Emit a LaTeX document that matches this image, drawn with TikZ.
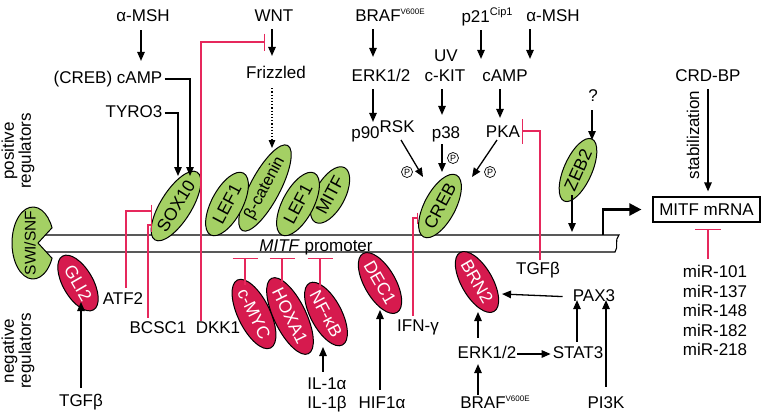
\documentclass[tikz,border=0pt]{standalone}
\usepackage{fontspec}
\setmainfont{Liberation Sans}
\usetikzlibrary{arrows.meta,calc,shapes.geometric}
\definecolor{gfill}{RGB}{164,208,100}
\definecolor{rfill}{RGB}{214,26,78}
\definecolor{rline}{RGB}{230,40,92}
\begin{document}
\begin{tikzpicture}[x=1pt,y=-1pt,
  every node/.style={font=\fontsize{17}{19}\selectfont},
  lbl/.style={inner sep=0pt,text height=12.2pt,text depth=3.6pt},
  arr/.style={line width=1.3pt,-{Triangle[length=9pt,width=7.5pt]}},
  redl/.style={line width=1.3pt,draw=rline},
  gell/.style={ellipse,draw,line width=1pt,fill=gfill,inner sep=0pt,font=\fontsize{17.5}{17.5}\selectfont},
  rell/.style={ellipse,draw,line width=1pt,fill=rfill,text=white,inner sep=0pt,font=\fontsize{17.5}{17.5}\selectfont},
  phos/.style={circle,draw,line width=0.7pt,inner sep=0pt,minimum size=11pt,font=\fontsize{9}{9}\selectfont},
]
\useasboundingbox (0,0) rectangle (761,413);

% columns for vertical arrows
\coordinate (colA) at (141,0);
\coordinate (colW) at (272,0);
\coordinate (colB) at (373,0);
\coordinate (colK) at (442,0);
\coordinate (colP) at (481,0);
\coordinate (colM) at (530,0);
\coordinate (colC) at (500,0);
\coordinate (colQ) at (592,0);
\coordinate (colR) at (708,0);
\coordinate (colI) at (323,0);
\coordinate (colH) at (380,0);
\coordinate (colE) at (478,0);
\coordinate (colS) at (577,0);
\coordinate (colT) at (606,0);

% labels
\node[rotate=90,align=center,font=\fontsize{17}{17}\selectfont,inner sep=0] (posreg) at (18,151) {positive\\regulators};
\node[rotate=90,align=center,font=\fontsize{17}{17}\selectfont,inner sep=0] (negreg) at (18,351) {negative\\regulators};

% promoter
\draw[line width=1.1pt] (40,235) -- (619,235) .. controls (614,240) and (619,247) .. (615,252) -- (43,252);
\node[lbl] (prom) at (316,247) {\textit{MITF} promoter};

% SWI/SNF
\draw[line width=1pt,fill=gfill] (38,243) -- ($(33,243)+(25:21 and 36)$) arc[start angle=25,end angle=335,x radius=21,y radius=36] -- cycle;
\node[rotate=90,font=\fontsize{15.5}{15.5}\selectfont,inner sep=0] (swi) at (30,243) {SWI/SNF};

% top text
\node[lbl] (amsh1) at (143,17) {α-MSH};
\node[lbl] (camp1) at (108,79) {(CREB) cAMP};
\node[lbl] (tyro) at (134,113) {TYRO3};
\node[lbl] (wnt) at (274,17) {WNT};
\node[lbl] (frz) at (276,74) {Frizzled};
\node[lbl] (braf1) at (390,17) {BRAF\raisebox{6.5pt}{\fontsize{8}{8}\selectfont V600E}};
\node[lbl] (erk1) at (381,77) {ERK1/2};
\node[lbl] (p90) at (383,134) {p90\raisebox{6pt}{RSK}};
\node[lbl] (uv) at (446,57) {UV};
\node[lbl] (ckit) at (445,77) {c-KIT};
\node[lbl] (p38) at (446,134) {p38};
\node[lbl] (p21) at (487,18) {p21\raisebox{7pt}{\fontsize{11}{11}\selectfont Cip1}};
\node[lbl] (amsh2) at (553,17) {α-MSH};
\node[lbl] (camp2) at (505,77) {cAMP};
\node[lbl] (pka) at (503,133) {PKA};
\node[lbl] (q) at (593,97) {?};
\node[lbl] (crdbp) at (708,77) {CRD-BP};
\node[rotate=90,inner sep=0] (stab) at (693,135) {stabilization};
\node[draw,line width=1.2pt,minimum width=107pt,minimum height=25pt,inner sep=0] (mrna) at (706.5,209.5) {MITF mRNA};
\node[align=center,font=\fontsize{17}{19.6}\selectfont,anchor=north,inner sep=0] (mir) at (715,265) {miR-101\\miR-137\\miR-148\\miR-182\\miR-218};

% bottom text
\node[lbl] (tgf1) at (81,402) {TGFβ};
\node[lbl] (atf2) at (123,300) {ATF2};
\node[lbl] (bcsc) at (158,329) {BCSC1};
\node[lbl] (dkk) at (218,329) {DKK1};
\node[lbl] (il1a) at (327,385) {IL-1α};
\node[lbl] (il1b) at (327,404) {IL-1β};
\node[lbl] (hif) at (382,404) {HIF1α};
\node[lbl] (ifn) at (418,327) {IFN-γ};
\node[lbl] (erk2) at (487,354) {ERK1/2};
\node[lbl] (braf2) at (495,404) {BRAF\raisebox{6.5pt}{\fontsize{8}{8}\selectfont V600E}};
\node[lbl] (stat3) at (578,354) {STAT3};
\node[lbl] (pax3) at (594,297) {PAX3};
\node[lbl] (pi3k) at (606,404) {PI3K};
\node[lbl] (tgf2) at (538,270) {TGFβ};

% green ellipses
\node[gell,minimum width=72pt,minimum height=31pt,rotate=58] (sox10) at (176,206) {SOX10};
\node[gell,minimum width=80pt,minimum height=30pt,rotate=62,font=\fontsize{16.5}{16.5}\selectfont] (bcat) at (265,188) {β-catenin};
\node[gell,minimum width=70pt,minimum height=31pt,rotate=62] (lef1a) at (227,204) {LEF1};
\node[gell,minimum width=62pt,minimum height=30pt,rotate=62] (mitfp) at (330,195) {MITF};
\node[gell,minimum width=70pt,minimum height=31pt,rotate=62] (lef1b) at (298,204) {LEF1};
\node[gell,minimum width=70pt,minimum height=31pt,rotate=62] (creb) at (440,206) {CREB};
\node[gell,minimum width=68pt,minimum height=28pt,rotate=66] (zeb2) at (578,170) {ZEB2};

% red ellipses
\node[rell,minimum width=62pt,minimum height=30pt,rotate=-60] (gli2) at (78,283) {GLI2};
\node[rell,minimum width=74pt,minimum height=32pt,rotate=-64] (cmyc) at (254,314) {c-MYC};
\node[rell,minimum width=76pt,minimum height=32pt,rotate=-64] (hoxa1) at (290,316) {HOXA1};
\node[rell,minimum width=68pt,minimum height=31pt,rotate=-62] (nfkb) at (326,314) {NF-κB};
\node[rell,minimum width=68pt,minimum height=31pt,rotate=-60] (dec1) at (380,283) {DEC1};
\node[rell,minimum width=68pt,minimum height=31pt,rotate=-60] (brn2) at (477,282) {BRN2};

% phospho marks
\node[phos] (ph1) at (407,172) {P};
\node[phos] (ph2) at (453,158) {P};
\node[phos] (ph3) at (490,172) {P};

% free-end coordinates
\coordinate (s10a) at (178,176);
\coordinate (s10b) at (190,176);
\coordinate (bcatT) at (272,148);
\coordinate (p90s) at (401,140);
\coordinate (crebL) at (423,177);
\coordinate (crebK) at (442,172);
\coordinate (pkas) at (497,140);
\coordinate (crebR) at (472,177);
\coordinate (zebT) at (592,140);
\coordinate (zebB) at (572,195);
\coordinate (promZ) at (572,232);
\coordinate (tss) at (603,235);
\coordinate (gliB) at (81,302);
\coordinate (nfkbB) at (323,347);
\coordinate (decB) at (380,310);
\coordinate (brnB) at (478,312);
\coordinate (brnR) at (502,294);
\coordinate (wntbar) at (265,42);
\coordinate (dkkx) at (201,0);
\coordinate (atfbar) at (152,211);
\coordinate (bcscbar) at (152,225);
\coordinate (ifnbar) at (418,218);
\coordinate (pkabar) at (522,131);
\coordinate (mirs) at (708,259);
\coordinate (mirbar) at (708,229);
\coordinate (tb1) at (245,258); \coordinate (te1) at (245,285);
\coordinate (tb2) at (282,258); \coordinate (te2) at (282,283);
\coordinate (tb3) at (320,258); \coordinate (te3) at (320,288);

% black arrows
\draw[arr,shorten <=5pt,shorten >=10pt] (amsh1.south -| colA) -- (camp1.north -| colA);
\draw[arr,shorten <=2pt] (camp1.east) -| (s10b);
\draw[arr,shorten <=2pt] (tyro.east) -| (s10a);
\draw[arr,shorten <=4pt,shorten >=10pt] (wnt.south -| colW) -- (frz.north -| colW);
\draw[line width=1.2pt,dotted,-{Triangle[length=8pt,width=6.5pt]},shorten <=6pt] (frz.south -| colW) -- (bcatT);
\draw[arr,shorten <=4pt,shorten >=12pt] (braf1.south -| colB) -- (erk1.north -| colB);
\draw[arr,shorten <=4pt,shorten >=4pt] (erk1.south -| colB) -- (p90.north -| colB);
\draw[arr,shorten <=4pt,shorten >=11pt] (ckit.south -| colK) -- (p38.north -| colK);
\draw[arr,shorten <=2pt] (p38.south -| colK) -- (crebK);
\draw[arr] (p90s) -- (crebL);
\draw[arr] (pkas) -- (crebR);
\draw[arr,shorten <=4pt,shorten >=10pt] (p21.south -| colP) -- (camp2.north -| colP);
\draw[arr,shorten <=4pt,shorten >=10pt] (amsh2.south -| colM) -- (camp2.north -| colM);
\draw[arr,shorten <=4pt,shorten >=7pt] (camp2.south -| colC) -- (pka.north -| colC);
\draw[arr,shorten <=5pt] (q.south -| colQ) -- (zebT);
\draw[arr] (zebB) -- (promZ);
\draw[arr,shorten <=4pt,shorten >=5pt] (crdbp.south -| colR) -- (mrna.north -| colR);
\draw[line width=2.4pt,-{Triangle[length=12pt,width=12pt]},shorten >=11pt] (tss) |- (mrna.west);

\draw[arr,shorten <=6pt] (tgf1.north) -- (gliB);
\draw[arr,shorten <=5pt] (il1a.north -| colI) -- (nfkbB);
\draw[arr,shorten <=6pt] (hif.north -| colH) -- (decB);
\draw[arr,shorten <=1pt,shorten >=2pt] (braf2.north -| colE) -- (erk2.south -| colE);
\draw[arr,shorten <=8pt] (erk2.north -| colE) -- (brnB);
\draw[arr,shorten <=1pt,shorten >=2pt] (erk2.east) -- (stat3.west);
\draw[arr,shorten <=4pt,shorten >=-5pt] (stat3.north -| colS) -- (pax3.south -| colS);
\draw[arr,shorten <=10pt] (pax3.west) -- (brnR);
\draw[arr,shorten <=9pt,shorten >=-5pt] (pi3k.north -| colT) -- (pax3.south -| colT);

% red inhibitors
\draw[redl,-{Bar[width=17pt,line width=1.3pt]}] (dkk.north -| dkkx) |- (wntbar);
\draw[redl,-{Bar[width=13pt,line width=1.3pt]}] (atf2.north -| 126,0) ++(0,-4) |- (atfbar);
\draw[redl,-{Bar[width=14pt,line width=1.3pt]}] (bcsc.north -| 148,0) ++(0,-3) |- (bcscbar);
\draw[redl,-{Bar[width=11pt,line width=1.3pt]}] (ifn.north -| 413,0) ++(0,-3) |- (ifnbar);
\draw[redl,-{Bar[width=25pt,line width=1.3pt]}] (tgf2.north -| 540,0) ++(0,-2) |- (pkabar);
\draw[redl,-{Bar[width=25pt,line width=1.3pt]}] (te1) -- (tb1);
\draw[redl,-{Bar[width=25pt,line width=1.3pt]}] (te2) -- (tb2);
\draw[redl,-{Bar[width=25pt,line width=1.3pt]}] (te3) -- (tb3);
\draw[redl,-{Bar[width=26pt,line width=1.3pt]}] (mirs) -- (mirbar);
\end{tikzpicture}
\end{document}
